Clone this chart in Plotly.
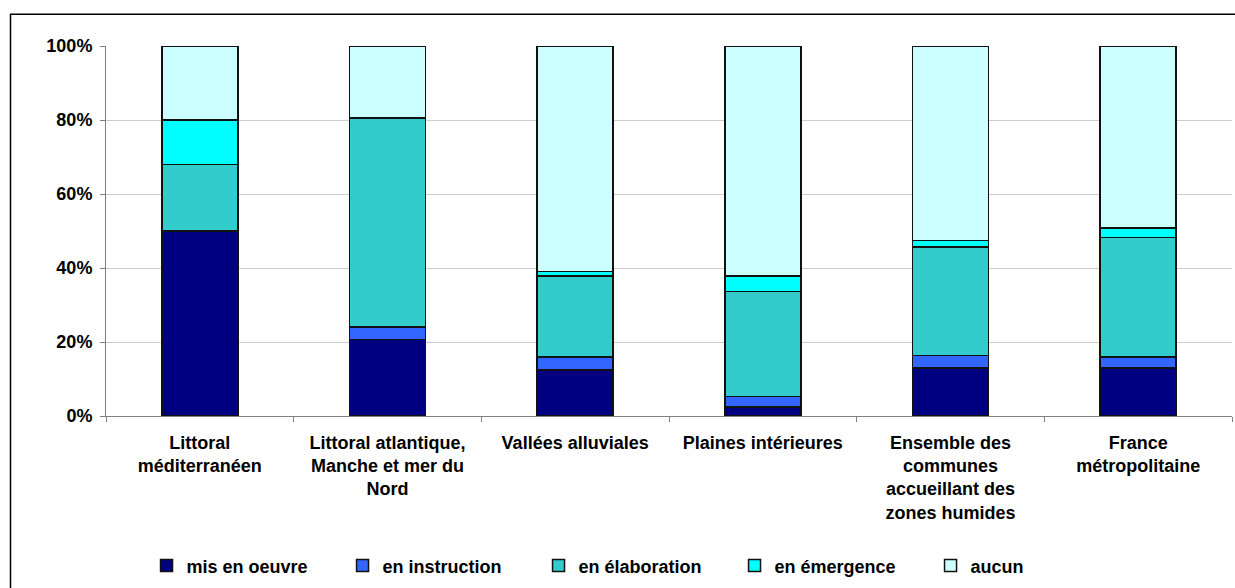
import plotly.graph_objects as go

# Territories (x categories) and share of communes by status of their programme (%)
categories = [
    "Littoral<br>méditerranéen",
    "Littoral atlantique,<br>Manche et mer du<br>Nord",
    "Vallées alluviales",
    "Plaines intérieures",
    "Ensemble des<br>communes<br>accueillant des<br>zones humides",
    "France<br>métropolitaine",
]

mis_en_oeuvre = [50.0, 20.7, 12.4, 2.5, 13.0, 13.0]
en_instruction = [0.0, 3.4, 3.6, 2.8, 3.4, 3.0]
en_elaboration = [18.0, 56.4, 21.8, 28.4, 29.3, 32.3]
en_emergence = [12.0, 0.0, 1.3, 4.2, 1.7, 2.5]
aucun = [20.0, 19.5, 60.9, 62.1, 52.6, 49.2]

series_names = ["mis en oeuvre", "en instruction", "en élaboration", "en émergence", "aucun"]
series_values = [mis_en_oeuvre, en_instruction, en_elaboration, en_emergence, aucun]
series_colors = ["#000080", "#3366FF", "#33CCCC", "#00FFFF", "#CCFFFF"]

y_ticks = [0, 20, 40, 60, 80, 100]

FONT = "Liberation Sans, Arial, sans-serif"

fig = go.Figure()
for name, vals, col in zip(series_names, series_values, series_colors):
    fig.add_trace(go.Bar(
        x=categories,
        y=vals,
        name=name,
        marker=dict(color=col, line=dict(color="#111111", width=1.5)),
    ))

fig.update_layout(
    width=1235,
    height=588,
    autosize=False,
    barmode="stack",
    bargap=0.595,
    plot_bgcolor="white",
    paper_bgcolor="white",
    margin=dict(l=106, r=3, t=46, b=166),
    font=dict(family=FONT, size=18, color="black", weight="bold"),
    showlegend=True,
    legend=dict(
        orientation="h",
        x=0.036,
        xanchor="left",
        y=-0.405,
        yanchor="middle",
        entrywidth=151,
        entrywidthmode="pixels",
        font=dict(family=FONT, size=18, color="black", weight="bold"),
        traceorder="normal",
        bgcolor="rgba(0,0,0,0)",
    ),
    xaxis=dict(
        type="category",
        showgrid=False,
        showline=True,
        linecolor="#808080",
        linewidth=1,
        ticks="outside",
        ticklen=5,
        tickcolor="#808080",
        tickson="boundaries",
        ticklabelstandoff=10,
        tickfont=dict(family=FONT, size=18, color="black", weight="bold"),
    ),
    yaxis=dict(
        range=[0, 100],
        tickvals=y_ticks,
        ticktext=[f"{v}%" for v in y_ticks],
        showgrid=True,
        gridcolor="#cccccc",
        gridwidth=1,
        showline=True,
        linecolor="#808080",
        linewidth=1,
        ticks="outside",
        ticklen=5,
        tickcolor="#808080",
        ticklabelstandoff=4,
        zeroline=False,
        tickfont=dict(family=FONT, size=18, color="black", weight="bold"),
    ),
    shapes=[
        # frame around the whole chart area
        dict(type="rect", xref="paper", yref="paper",
             x0=-0.0848, x1=1.007, y0=-0.474, y1=1.0856,
             line=dict(color="black", width=1.5), fillcolor="rgba(0,0,0,0)",
             layer="below"),
    ],
)

fig.write_html("out.html")
